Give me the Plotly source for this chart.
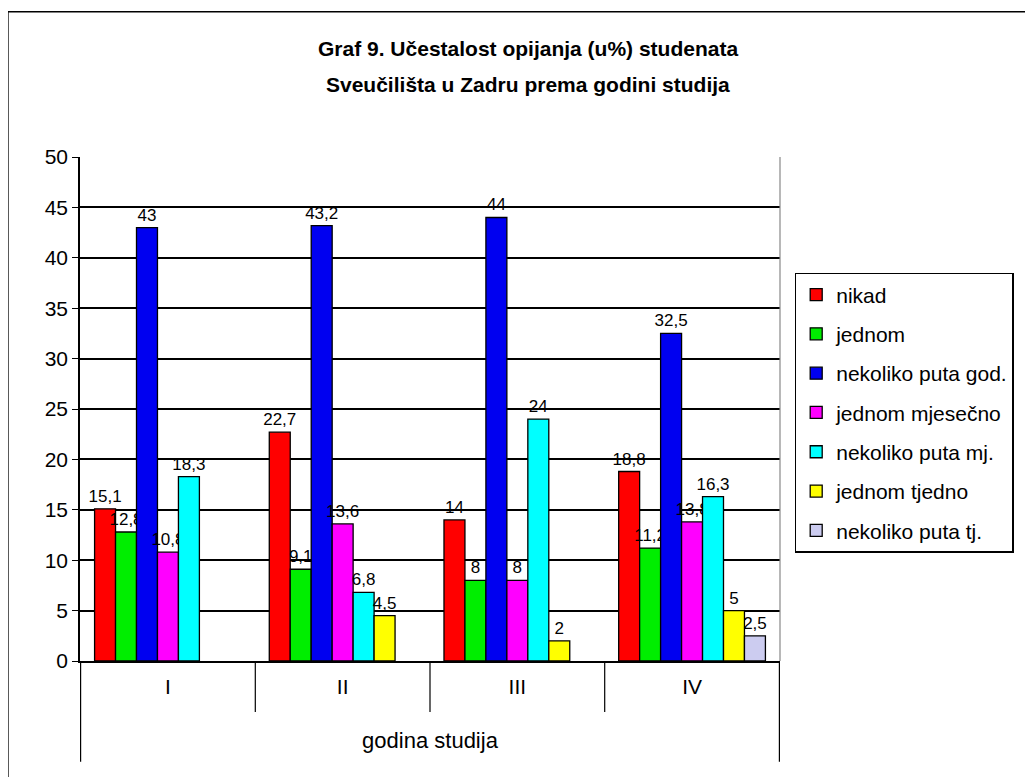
import plotly.graph_objects as go

# godine studija
godine = ["I", "II", "III", "IV"]

# učestalost opijanja (u %), None = nema stupca
nikad = [15.1, 22.7, 14, 18.8]
jednom = [12.8, 9.1, 8, 11.2]
nekoliko_god = [43, 43.2, 44, 32.5]
jednom_mjesecno = [10.8, 13.6, 8, 13.8]
nekoliko_mj = [18.3, 6.8, 24, 16.3]
jednom_tjedno = [None, 4.5, 2, 5]
nekoliko_tj = [None, None, None, 2.5]

serije = [
    ("nikad", nikad, "#FF0000"),
    ("jednom", jednom, "#00EE00"),
    ("nekoliko puta god.", nekoliko_god, "#0000F0"),
    ("jednom mjesečno", jednom_mjesecno, "#FF00FF"),
    ("nekoliko puta mj.", nekoliko_mj, "#00FFFF"),
    ("jednom tjedno", jednom_tjedno, "#FFFF00"),
    ("nekoliko puta tj.", nekoliko_tj, "#CCCCF0"),
]

FONT = "Arial, Liberation Sans, sans-serif"


def oznaka(v):
    if v is None:
        return ""
    return ("%g" % v).replace(".", ",")


fig = go.Figure()

for i, (ime, vrijednosti, boja) in enumerate(serije):
    fig.add_trace(
        go.Bar(
            x=godine,
            y=vrijednosti,
            name=ime,
            legendgroup=str(i),
            marker=dict(color=boja, line=dict(color="black", width=1.3)),
            text=[oznaka(v) for v in vrijednosti],
            textposition="outside",
            constraintext="none",
            cliponaxis=False,
            textfont=dict(family=FONT, size=17, color="black"),
        )
    )

# okvir cijelog grafikona
fig.add_shape(
    type="rect", xref="paper", yref="paper",
    x0=-0.103, x1=1.371, y0=-0.26, y1=1.288,
    line=dict(color="black", width=1.5), layer="below",
)

# razdjelnici kategorija ispod osi
for k in range(len(godine) + 1):
    vanjski = k in (0, len(godine))
    fig.add_shape(
        type="line", xref="x", yref="paper",
        x0=k - 0.5, x1=k - 0.5, y0=0, y1=-0.2 if vanjski else -0.101,
        line=dict(color="black", width=1.2),
    )

# desni rub područja crtanja
fig.add_shape(
    type="line", xref="paper", yref="paper",
    x0=1, x1=1, y0=0, y1=1,
    line=dict(color="#888888", width=1.2),
)

naslov = dict(family=FONT, size=21, color="black", weight="bold")
fig.add_annotation(
    text="Graf 9. Učestalost opijanja (u%) studenata",
    xref="paper", yref="paper", x=0.64, y=1.216, yanchor="middle",
    showarrow=False, font=naslov,
)
fig.add_annotation(
    text="Sveučilišta u Zadru prema godini studija",
    xref="paper", yref="paper", x=0.64, y=1.143, yanchor="middle",
    showarrow=False, font=naslov,
)

fig.update_layout(
    width=1033,
    height=777,
    margin=dict(l=72, r=261, t=149, b=124),
    paper_bgcolor="white",
    plot_bgcolor="white",
    barmode="group",
    bargap=0.16,
    bargroupgap=0,
    font=dict(family=FONT, color="black"),
    showlegend=True,
    legend=dict(
        x=1.021, y=0.77, xanchor="left", yanchor="top",
        bordercolor="black", borderwidth=1.5, bgcolor="white",
        font=dict(family=FONT, size=21, color="black"),
        tracegroupgap=9,
        traceorder="grouped",
    ),
    xaxis=dict(
        type="category",
        showgrid=False,
        showline=True,
        linecolor="black",
        linewidth=1.5,
        ticks="",
        tickfont=dict(family=FONT, size=21),
        ticklabelstandoff=6,
        title=dict(text="godina studija", font=dict(family=FONT, size=22), standoff=36),
    ),
    yaxis=dict(
        range=[0, 50],
        dtick=5,
        showgrid=True,
        gridcolor="black",
        gridwidth=1.5,
        showline=True,
        linecolor="black",
        linewidth=1.5,
        ticks="outside",
        ticklen=6,
        tickcolor="black",
        zeroline=False,
        tickfont=dict(family=FONT, size=21),
    ),
)

fig.write_html("out.html")
